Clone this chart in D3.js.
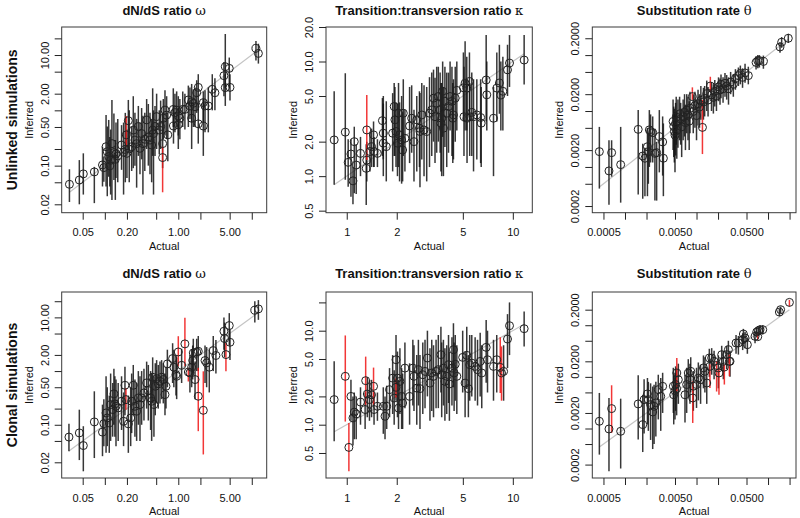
<!DOCTYPE html>
<html><head><meta charset="utf-8">
<script src="https://cdn.jsdelivr.net/npm/d3@7"></script>
<style>body{margin:0;background:#fff}svg{display:block}text{font-family:"Liberation Sans",Arial,Helvetica,sans-serif}</style>
</head><body><svg id="c" width="800" height="518"></svg>
<script>
// ---- data: [actual, inferred, lower CI, upper CI, flagged] ----
const omegaUnlinked=[
[0.033,0.046,0.022,0.086,0],[0.045,0.055,0.020,0.126,0],[0.051,0.071,0.030,0.167,0],[0.072,0.077,0.021,0.095,0],
[0.093,0.103,0.042,0.22,0],[0.097,0.092,0.051,0.146,0],[0.104,0.22,0.042,0.82,0],[0.108,0.179,0.028,0.51,0],
[0.113,0.146,0.063,0.67,0],[0.117,0.099,0.042,0.33,0],[0.12,0.125,0.03,0.45,0],[0.125,0.25,0.024,1.54,0],
[0.133,0.172,0.055,0.88,0],[0.139,0.13,0.024,0.29,0],[0.142,0.163,0.06,0.6,0],[0.15,0.15,0.05,0.7,0],
[0.169,0.236,0.084,0.54,0],[0.18,0.174,0.03,0.6,0],[0.19,0.197,0.05,0.9,0],[0.196,0.36,0.22,0.79,1],
[0.2,0.167,0.06,0.45,0],[0.209,0.65,0.19,1.54,0],[0.215,0.2,0.05,1.0,0],[0.232,0.22,0.08,0.5,0],
[0.244,0.44,0.09,1.8,0],[0.257,0.29,0.1,0.9,0],[0.271,0.25,0.04,0.7,0],[0.286,0.51,0.15,1.2,0],
[0.301,0.206,0.07,0.6,0],[0.317,0.38,0.13,1.1,0],[0.33,0.25,0.03,0.8,0],[0.35,0.3,0.08,0.9,0],
[0.371,0.67,0.2,1.6,0],[0.391,0.33,0.1,1.3,0],[0.412,0.29,0.07,0.9,0],[0.434,0.236,0.05,0.7,0],
[0.448,0.44,0.15,2.5,0],[0.46,0.38,0.03,1.0,0],[0.482,0.51,0.15,1.2,0],[0.507,0.77,0.2,2.0,0],
[0.551,0.44,0.16,1.0,0],[0.575,0.51,0.2,1.5,0],[0.612,0.25,0.09,0.9,0],[0.612,0.14,0.033,0.22,1],
[0.625,0.72,0.3,1.6,0],[0.659,1.01,0.35,2.3,0],[0.694,0.82,0.3,1.8,0],[0.72,0.36,0.12,0.9,0],
[0.855,1.04,0.5,2.5,0],[0.86,0.52,0.25,1.2,0],[0.9,0.91,0.4,2.0,0],[0.95,1.01,0.5,2.2,0],
[1.0,0.79,0.35,1.8,0],[1.0,0.55,0.2,1.1,0],[1.05,0.72,0.3,1.6,0],[1.15,1.04,0.5,2.2,0],
[1.23,1.04,0.45,2.0,0],[1.37,1.54,0.5,2.8,0],[1.44,1.2,0.7,2.6,0],[1.52,1.43,0.6,3.0,0],
[1.52,0.72,0.2,1.4,0],[1.6,1.34,0.5,2.4,0],[1.69,1.16,0.5,2.6,0],[1.78,2.08,0.9,3.5,0],
[1.87,2.6,1.0,4.5,0],[1.87,0.57,0.25,1.3,0],[2.19,1.38,0.6,2.2,0],[2.19,0.52,0.15,1.6,0],
[2.31,1.2,0.4,2.3,0],[2.56,1.2,0.4,2.6,0],[2.9,2.4,1.0,4.5,0],[3.15,2.08,1.0,3.8,0],
[4.18,4.23,1.8,7.5,0],[4.36,6.15,2.5,24,0],[4.36,2.57,1.2,4.5,0],[4.94,5.74,2.5,9,0],
[5.05,2.6,1.5,4.5,0],[11.4,13.2,8,18,0],[12.3,10.7,7,16,0]];

const kappaUnlinked=[
[0.84,2.07,0.84,5.5,0],[0.98,2.42,0.93,7.9,0],[1.02,1.32,0.81,2.1,0],[1.06,1.56,0.66,2.1,0],
[1.09,0.91,0.57,1.2,0],[1.11,2.0,0.71,2.7,0],[1.14,1.25,0.7,1.9,0],[1.21,1.58,1.0,2.2,0],
[1.31,1.17,0.56,1.9,0],[1.32,2.53,1.38,5.1,1],[1.32,1.38,0.9,2.0,0],[1.38,1.64,1.1,2.4,0],
[1.41,1.81,1.2,2.6,0],[1.45,2.29,1.2,3.0,0],[1.46,1.64,1.2,2.2,0],[1.53,1.58,1.2,2.1,0],
[1.64,3.05,1.5,4.8,0],[1.66,2.37,1.4,5.0,0],[1.66,1.94,1.0,4.3,0],[1.73,1.81,0.9,4.5,0],
[1.89,2.37,1.1,5.3,0],[1.93,4.05,1.5,6.5,0],[1.95,3.1,1.5,6.0,0],[1.98,2.45,1.2,4.4,0],
[2.02,1.94,1.0,4.3,0],[2.05,3.54,1.2,6.5,0],[2.08,2.29,0.9,4.4,0],[2.14,2.07,0.86,5.0,0],
[2.17,1.69,0.9,3.6,0],[2.19,3.54,1.5,7,0],[2.24,2.14,1.1,3.8,0],[2.39,2.74,1.3,6.0,0],
[2.46,3.2,1.6,6.2,0],[2.54,2.0,0.9,3.8,0],[2.64,3.1,1.1,5.0,0],[2.74,2.62,1.2,5.5,0],
[2.76,2.45,0.8,5.3,0],[2.83,3.42,1.4,6.5,0],[2.92,2.53,1.0,6.2,0],[3.03,2.45,0.9,6.0,0],
[3.15,3.54,1.2,7.3,0],[3.25,3.79,1.5,8,0],[3.33,4.79,2.0,8.5,0],[3.4,3.3,1.3,7.2,0],
[3.48,4.33,1.6,9,0],[3.56,4.95,2.0,9,0],[3.65,3.79,1.6,8,0],[3.69,2.9,1.1,6.5,0],
[3.73,3.2,1.0,6.5,0],[3.78,5.5,2.2,10,0],[3.82,2.62,1.0,6,0],[3.9,4.5,1.8,9,0],
[4.0,3.54,1.2,8,0],[4.1,4.05,1.6,8,0],[4.19,4.95,2.5,10,0],[4.3,4.5,1.5,9,0],
[4.35,3.2,1.3,6.5,0],[4.39,3.42,1.4,7,0],[4.5,4.79,2,9,0],[4.6,5.6,2.5,10,0],
[5.04,5.9,3.0,12,0],[5.08,3.3,1.5,9,0],[5.16,6.47,2.5,15,0],[5.28,5.86,2.5,11,0],
[5.3,3.2,1.3,7,0],[5.48,6.7,3.0,12,0],[5.5,3.3,1.5,6.5,0],[5.66,3.6,1.5,8,0],
[5.8,3.3,1.1,7,0],[6.07,3.42,1.4,7,0],[6.4,3.25,1.3,7,0],[6.45,2.9,1.2,6,0],
[6.91,6.9,3,17,0],[6.97,5.12,2.5,10,0],[7.65,3.2,1.0,6,0],[8.01,5.86,3,12,0],
[8.3,6.5,3.5,14,0],[8.47,5.1,2.5,10,0],[8.71,5.5,2.5,11,0],[9.29,8.46,5,14,0],
[9.55,9.7,6,17,0],[11.7,10.3,6.3,17,0]];

const thetaUnlinked=[
[0.000438,0.00188,0.00041,0.0052,0],[0.000597,0.00085,0.00021,0.003,0],[0.00065,0.0018,0.00067,0.003,0],
[0.00087,0.0011,0.00023,0.0052,0],[0.00153,0.0047,0.00032,0.0104,0],[0.00177,0.00157,0.00027,0.0026,0],
[0.0019,0.00143,0.0003,0.0022,0],[0.00206,0.0023,0.0003,0.005,0],[0.00212,0.00188,0.0005,0.004,0],
[0.00219,0.0046,0.001,0.0104,0],[0.00228,0.0043,0.0012,0.0087,0],[0.00244,0.0041,0.0012,0.008,0],
[0.00262,0.00175,0.00025,0.0048,0],[0.00277,0.0018,0.00025,0.0028,0],[0.00302,0.0035,0.0008,0.0104,0],
[0.00336,0.0028,0.0007,0.008,0],[0.00344,0.00143,0.0003,0.006,0],
[0.0047,0.0065,0.002,0.016,0],[0.0048,0.0053,0.0015,0.012,0],[0.0049,0.0043,0.0012,0.011,0],
[0.005,0.0037,0.0008,0.0095,0],[0.0051,0.006,0.0016,0.014,0],[0.0052,0.0078,0.0025,0.018,0],
[0.0053,0.0045,0.0014,0.01,0],[0.0055,0.0066,0.0022,0.016,0],[0.0058,0.0089,0.003,0.018,0],
[0.006,0.0072,0.0025,0.014,0],[0.0062,0.0052,0.0015,0.011,0],[0.0065,0.0079,0.003,0.016,0],
[0.0068,0.0095,0.0035,0.02,0],[0.007,0.0062,0.002,0.013,0],[0.0073,0.0104,0.004,0.02,0],
[0.0076,0.0085,0.003,0.018,0],[0.0079,0.0066,0.002,0.015,0],[0.0081,0.0112,0.004,0.022,0],
[0.00875,0.0181,0.0159,0.0265,1],[0.009,0.0098,0.004,0.02,0],[0.0095,0.0125,0.005,0.022,0],
[0.01,0.0083,0.003,0.016,0],[0.0105,0.0135,0.0055,0.024,0],[0.011,0.0118,0.005,0.02,0],
[0.0115,0.0155,0.007,0.028,0],[0.0121,0.0051,0.0017,0.0158,1],[0.0125,0.0145,0.007,0.026,0],
[0.013,0.0168,0.008,0.028,0],[0.0139,0.0205,0.01,0.035,0],[0.0145,0.0157,0.008,0.027,0],
[0.0156,0.028,0.0222,0.041,1],[0.0162,0.0195,0.01,0.033,0],[0.0172,0.0175,0.009,0.03,0],
[0.018,0.0225,0.012,0.036,0],[0.019,0.0185,0.01,0.03,0],[0.0203,0.027,0.015,0.04,0],
[0.0213,0.0238,0.013,0.038,0],[0.022,0.03,0.017,0.045,0],[0.0235,0.025,0.014,0.04,0],
[0.025,0.0313,0.018,0.048,0],[0.0264,0.028,0.016,0.044,0],[0.028,0.025,0.013,0.04,0],
[0.03,0.033,0.02,0.05,0],[0.0327,0.03,0.018,0.046,0],[0.035,0.038,0.024,0.056,0],
[0.0385,0.043,0.028,0.06,0],[0.041,0.047,0.03,0.065,0],[0.044,0.04,0.026,0.058,0],
[0.0477,0.048,0.032,0.07,0],[0.053,0.043,0.03,0.062,0],[0.068,0.074,0.055,0.095,0],
[0.072,0.079,0.058,0.1,0],[0.0757,0.08,0.06,0.1,0],[0.0861,0.077,0.057,0.098,0],
[0.147,0.14,0.11,0.17,0],[0.155,0.17,0.135,0.21,0],[0.192,0.2,0.165,0.24,0]];

const omegaClonal=[
[0.0325,0.059,0.032,0.105,0],[0.045,0.0705,0.022,0.191,0],[0.051,0.041,0.0136,0.094,0],[0.072,0.113,0.024,0.42,0],
[0.093,0.073,0.026,0.237,0],[0.097,0.105,0.04,0.3,0],[0.104,0.166,0.03,0.8,0],[0.108,0.134,0.04,0.5,0],
[0.115,0.108,0.03,0.35,0],[0.12,0.238,0.05,0.9,0],[0.128,0.192,0.06,0.6,0],[0.133,0.376,0.1,1.1,0],
[0.137,0.244,0.06,0.8,0],[0.142,0.221,0.04,0.7,0],[0.152,0.206,0.05,0.6,0],[0.169,0.274,0.08,0.8,0],
[0.18,0.116,0.04,0.4,0],[0.188,0.544,0.15,1.2,0],[0.194,0.294,0.19,0.485,1],[0.209,0.104,0.03,0.35,0],
[0.225,0.134,0.04,0.5,0],[0.232,0.274,0.07,0.9,0],[0.244,0.544,0.15,1.3,0],[0.257,0.221,0.06,0.7,0],
[0.271,0.179,0.05,0.6,0],[0.286,0.316,0.1,1.0,0],[0.301,0.238,0.05,0.8,0],[0.317,0.316,0.1,1.0,0],
[0.341,0.392,0.12,1.1,0],[0.371,0.603,0.2,1.5,0],[0.391,0.434,0.12,1.3,0],[0.42,0.316,0.08,1.0,0],
[0.434,0.274,0.05,0.9,0],[0.448,0.768,0.25,1.8,0],[0.466,0.238,0.06,0.8,0],[0.486,0.521,0.15,1.4,0],
[0.507,0.724,0.25,1.6,0],[0.534,0.577,0.2,1.3,0],[0.563,0.646,0.25,1.5,0],[0.593,0.768,0.3,1.6,0],
[0.625,0.695,0.25,1.4,0],[0.659,0.365,0.15,0.9,0],[0.68,0.521,0.2,1.2,0],[0.71,1.36,0.5,2.5,0],
[0.837,1.71,0.6,3.3,0],[0.87,1.18,0.5,2.5,0],[0.93,0.86,0.35,2.0,0],[0.95,0.8,0.3,1.8,0],
[1.0,2.27,1.23,4.46,1],[1.11,1.28,0.6,2.6,0],[1.23,3.21,1.23,9.8,1],[1.37,0.96,0.64,1.15,1],
[1.44,0.925,0.4,2.0,0],[1.52,1.18,0.5,2.5,0],[1.57,1.57,0.7,3.0,0],[1.6,2.18,0.9,4.0,0],
[1.69,0.695,0.3,1.5,0],[1.78,2.27,1.0,4.0,0],[1.87,2.34,1.0,4.5,0],[1.87,0.34,0.076,1.15,1],
[2.19,0.186,0.028,0.99,1],[2.31,1.57,0.6,3.0,0],[2.43,1.42,0.5,2.8,0],[2.64,1.18,0.4,2.5,0],
[2.99,2.41,1.0,4.5,0],[3.25,1.95,0.9,3.8,0],[4.18,5.52,2.5,10,0],[4.27,4.03,1.8,8,0],
[4.45,2.03,0.99,3.35,1],[4.94,7.05,3.0,12,0],[5.05,3.44,1.6,6,0],[11.0,13.6,8,20,0],[12.3,14.4,9,21,0]];

const kappaClonal=[
[0.84,1.85,0.665,4.72,0],[0.98,3.27,1.08,8.9,1],[1.03,0.574,0.319,1.04,1],[1.06,2.0,1.1,3.0,0],
[1.09,1.18,0.6,2.0,0],[1.11,1.36,0.7,2.2,0],[1.14,1.3,0.7,2.0,0],[1.21,1.74,1.0,2.5,0],
[1.29,1.45,0.9,2.2,0],[1.3,2.94,1.63,5.3,1],[1.33,2.12,1.2,3.2,0],[1.37,1.85,1.1,3.0,0],
[1.41,2.08,1.2,3.0,0],[1.45,2.56,1.63,4.05,1],[1.46,1.45,1.0,2.2,0],[1.53,1.57,1.1,2.2,0],
[1.66,1.57,0.8,2.5,0],[1.7,1.23,0.7,2.0,0],[1.74,1.57,0.9,2.6,0],[1.81,2.36,1.2,4.0,0],
[1.89,3.13,1.3,5.5,0],[1.93,1.92,1.0,3.8,0],[1.98,4.91,1.8,9,0],[1.98,2.5,1.95,3.1,1],
[2.02,3.13,1.2,6.0,0],[2.05,1.5,0.9,3.0,0],[2.09,2.89,1.3,6.5,0],[2.14,2.0,0.9,4.0,0],
[2.17,1.7,0.9,3.5,0],[2.24,4.0,1.5,7.5,0],[2.39,2.0,1.0,4.5,0],[2.5,4.0,1.6,8,0],
[2.54,3.27,1.4,7,0],[2.64,2.45,1.0,5.5,0],[2.7,3.85,1.6,8,0],[2.76,2.42,0.9,5.5,0],
[2.87,3.4,1.3,7.5,0],[2.96,3.69,1.5,8,0],[3.06,5.12,2.0,10,0],[3.17,2.77,1.1,6.5,0],
[3.25,3.55,1.4,8,0],[3.33,3.27,1.2,7,0],[3.45,3.69,1.5,8,0],[3.56,3.85,1.5,9,0],
[3.69,5.56,2.2,11,0],[3.73,3.4,1.2,7.5,0],[3.82,4.0,1.6,8,0],[3.9,2.89,1.1,6.5,0],
[4.0,3.27,1.3,7,0],[4.1,4.35,1.7,9,0],[4.15,2.71,1.1,6,0],[4.3,4.0,1.6,8.5,0],
[4.39,6.28,2.5,12,0],[4.43,3.55,1.4,7.5,0],[4.5,4.4,1.8,9,0],[4.6,3.27,1.3,7,0],
[4.99,5.2,2.2,10,0],[5.16,2.77,1.2,6,0],[5.28,5.47,2.4,11,0],[5.4,2.42,1.2,5.5,0],
[5.5,4.35,1.8,9,0],[5.66,4.52,2.0,9,0],[5.93,4.17,1.8,8.5,0],[6.13,3.85,1.6,8,0],
[6.36,4.71,2.0,9.5,0],[6.5,3.55,1.5,7,0],[6.91,6.65,2.8,13,0],[7.04,4.91,2.2,10,0],
[7.65,4.17,1.8,8,0],[8.0,4.91,2.2,9,0],[8.4,4.07,2.17,8.5,1],[8.55,3.55,1.8,6.8,1],
[8.8,3.69,1.8,7,0],[9.29,8.15,4,15,0],[9.55,11.3,5.5,20,0],[11.7,10.5,6.8,16,0]];

const thetaClonal=[
[0.000438,0.00138,0.000312,0.00488,0],[0.000597,0.00098,0.000149,0.0039,0],[0.00065,0.00243,0.00082,0.00687,1],
[0.00087,0.000883,0.000168,0.00378,0],[0.00153,0.00299,0.00061,0.0107,0],[0.00177,0.00119,0.00035,0.0045,0],
[0.00185,0.00362,0.0008,0.009,0],[0.00206,0.00467,0.0012,0.0095,0],[0.00212,0.00362,0.0009,0.008,0],
[0.00228,0.0029,0.0006,0.0075,0],[0.00244,0.00209,0.0004,0.0065,0],[0.00255,0.00269,0.0005,0.007,0],
[0.0027,0.00313,0.0007,0.008,0],[0.00292,0.00566,0.0015,0.011,0],[0.00316,0.0042,0.0009,0.0095,0],
[0.00336,0.00656,0.002,0.012,0],[0.00474,0.0066,0.002,0.015,0],[0.0048,0.0045,0.0012,0.011,0],
[0.005,0.0054,0.0015,0.012,0],[0.0051,0.0071,0.0022,0.016,0],[0.00527,0.0059,0.0018,0.014,0],
[0.0053,0.0119,0.00525,0.0232,1],[0.00557,0.0088,0.003,0.018,0],[0.0069,0.0045,0.0013,0.011,0],
[0.00728,0.0071,0.002,0.015,0],[0.00767,0.0119,0.004,0.022,0],[0.0081,0.0088,0.003,0.018,0],
[0.0083,0.0128,0.005,0.024,0],[0.00885,0.0039,0.00128,0.0082,1],[0.00903,0.0066,0.0022,0.013,0],
[0.01,0.0071,0.0025,0.015,0],[0.0106,0.0095,0.0035,0.019,0],[0.0114,0.0088,0.003,0.017,0],
[0.0125,0.0149,0.006,0.026,0],[0.0131,0.0128,0.005,0.024,0],[0.0139,0.0076,0.003,0.015,0],
[0.0151,0.0232,0.01,0.035,0],[0.0154,0.016,0.0061,0.0175,1],[0.0163,0.0232,0.011,0.036,0],
[0.0176,0.02,0.009,0.032,0],[0.0191,0.0167,0.0052,0.02,1],[0.0202,0.0149,0.006,0.026,0],
[0.0206,0.0119,0.0045,0.0143,1],[0.0225,0.0269,0.013,0.04,0],[0.0237,0.02,0.009,0.032,0],
[0.0245,0.0155,0.0071,0.0173,1],[0.0264,0.0269,0.014,0.04,0],[0.0279,0.0337,0.018,0.05,0],
[0.0288,0.02,0.0103,0.0269,1],[0.0294,0.02,0.01,0.032,0],[0.0357,0.0453,0.028,0.065,0],
[0.0385,0.0453,0.027,0.062,0],[0.0442,0.0525,0.033,0.07,0],[0.0452,0.0676,0.045,0.085,0],
[0.0477,0.0566,0.036,0.075,0],[0.0514,0.042,0.028,0.058,0],[0.0658,0.061,0.045,0.078,0],
[0.0695,0.074,0.058,0.092,0],[0.0718,0.06,0.053,0.071,1],[0.0733,0.0785,0.062,0.095,0],
[0.0773,0.082,0.065,0.1,0],[0.0843,0.082,0.066,0.1,0],[0.144,0.18,0.15,0.21,0],
[0.15,0.2,0.17,0.23,0],[0.199,0.277,0.23,0.31,1]];

// ---- axis ticks / labels ----
const omegaXTicks=[0.05,0.1,0.2,0.5,1,2,5,10];
const omegaXLabels=["0.05","","0.20","","1.00","","5.00",""];
const omegaYTicks=[0.02,0.05,0.1,0.2,0.5,1,2,5,10,20];
const omegaYLabels=["0.02","","0.10","","0.50","","2.00","","10.00",""];
const kappaXTicks=[1,2,5,10];
const kappaXLabels=["1","2","5","10"];
const kappaYTicks=[0.5,1,2,5,10,20];
const kappaYLabelsUnlinked=["0.5","1.0","2.0","5.0","10.0","20.0"];
const kappaYLabelsClonal=["0.5","1.0","2.0","5.0","10.0",""];
const thetaXTicks=[0.0005,0.001,0.002,0.005,0.01,0.02,0.05,0.1,0.2];
const thetaXLabels=["0.0005","","","0.0050","","","0.0500","",""];
const thetaYTicks=[0.0002,0.0005,0.001,0.002,0.005,0.01,0.02,0.05,0.1,0.2];
const thetaYLabels=["0.0002","","","0.0020","","","0.0200","","","0.2000"];

// axis limits
const omegaXDomain=[0.0259,15.96], kappaXDomain=[0.750,13.1], thetaXDomain=[0.000349,0.246];
const omegaUnlinkedYDomain=[0.0141,32.1], kappaUnlinkedYDomain=[0.48,20.0], thetaUnlinkedYDomain=[0.000152,0.318];
const omegaClonalYDomain=[0.0102,29.7], kappaClonalYDomain=[0.271,25.8], thetaClonalYDomain=[0.00011,0.44];

const titles=[["dN/dS ratio ","ω"],["Transition:transversion ratio ","κ"],["Substitution rate ","θ"]];
const rowLabels=["Unlinked simulations","Clonal simulations"];

// ---- layout ----
const colX=[[61.7,266.7],[326,532.3],[592.3,796]];
const rowY=[[27,212.7],[292,478]];
const titleY=[14.5,277.5];

const panels=[
 {r:0,c:0,data:omegaUnlinked,xd:omegaXDomain,yd:omegaUnlinkedYDomain,xt:omegaXTicks,xl:omegaXLabels,yt:omegaYTicks,yl:omegaYLabels},
 {r:0,c:1,data:kappaUnlinked,xd:kappaXDomain,yd:kappaUnlinkedYDomain,xt:kappaXTicks,xl:kappaXLabels,yt:kappaYTicks,yl:kappaYLabelsUnlinked},
 {r:0,c:2,data:thetaUnlinked,xd:thetaXDomain,yd:thetaUnlinkedYDomain,xt:thetaXTicks,xl:thetaXLabels,yt:thetaYTicks,yl:thetaYLabels},
 {r:1,c:0,data:omegaClonal,xd:omegaXDomain,yd:omegaClonalYDomain,xt:omegaXTicks,xl:omegaXLabels,yt:omegaYTicks,yl:omegaYLabels},
 {r:1,c:1,data:kappaClonal,xd:kappaXDomain,yd:kappaClonalYDomain,xt:kappaXTicks,xl:kappaXLabels,yt:kappaYTicks,yl:kappaYLabelsClonal},
 {r:1,c:2,data:thetaClonal,xd:thetaXDomain,yd:thetaClonalYDomain,xt:thetaXTicks,xl:thetaXLabels,yt:thetaYTicks,yl:thetaYLabels}
];

const svg=d3.select("#c");
svg.append("rect").attr("width",800).attr("height",518).attr("fill","#fff");

panels.forEach(p=>{
  const [x0,x1]=colX[p.c],[y0,y1]=rowY[p.r];
  const x=d3.scaleLog().domain(p.xd).range([x0,x1]);
  const y=d3.scaleLog().domain(p.yd).range([y1,y0]);
  const g=svg.append("g");
  const ext=d3.extent(p.data,d=>d[0]);
  g.append("line").attr("x1",x(ext[0])).attr("y1",y(ext[0])).attr("x2",x(ext[1])).attr("y2",y(ext[1]))
    .attr("stroke","#c4c4c4").attr("stroke-width",1.2);
  const sorted=p.data.slice().sort((a,b)=>a[4]-b[4]);
  g.selectAll(".bar").data(sorted).join("line")
    .attr("x1",d=>x(d[0])).attr("x2",d=>x(d[0]))
    .attr("y1",d=>y(d[2])).attr("y2",d=>y(d[3]))
    .attr("stroke",d=>d[4]?"rgba(240,20,20,0.85)":"rgba(20,20,20,0.85)")
    .attr("stroke-width",1.5);
  g.selectAll(".pt").data(p.data).join("circle")
    .attr("cx",d=>x(d[0])).attr("cy",d=>y(d[1])).attr("r",4)
    .attr("fill","none").attr("stroke","#222").attr("stroke-width",1);
  g.append("rect").attr("x",x0).attr("y",y0).attr("width",x1-x0).attr("height",y1-y0)
    .attr("fill","none").attr("stroke","#3a3a3a").attr("stroke-width",1);
  // x axis
  const ax=g.append("g").attr("transform",`translate(0,${y1})`)
    .call(d3.axisBottom(x).tickValues(p.xt).tickFormat((d,i)=>p.xl[i]).tickSizeInner(7).tickSizeOuter(0).tickPadding(9));
  ax.select(".domain").remove();
  ax.selectAll("line").attr("stroke","#222");
  ax.selectAll("text").attr("font-size",11).attr("fill","#111").attr("font-family","Liberation Sans, Arial, sans-serif");
  // y axis
  const ay=g.append("g").attr("transform",`translate(${x0},0)`)
    .call(d3.axisLeft(y).tickValues(p.yt).tickFormat((d,i)=>p.yl[i]).tickSizeInner(7).tickSizeOuter(0));
  ay.select(".domain").remove();
  ay.selectAll("line").attr("stroke","#222");
  ay.selectAll("text").attr("font-size",11).attr("fill","#111").attr("font-family","Liberation Sans, Arial, sans-serif")
    .attr("transform","rotate(-90)").attr("x",0).attr("y",-13).attr("dy",0).attr("text-anchor","middle");
  // axis titles
  g.append("text").attr("x",(x0+x1)/2).attr("y",y1+37).attr("text-anchor","middle")
    .attr("font-size",11).attr("fill","#111").text("Actual");
  g.append("text").attr("transform",`translate(${x0-29},${(y0+y1)/2}) rotate(-90)`).attr("text-anchor","middle")
    .attr("font-size",11).attr("fill","#111").text("Inferred");
  // title
  const t=g.append("text").attr("x",(x0+x1)/2).attr("y",titleY[p.r]).attr("text-anchor","middle")
    .attr("font-size",13).attr("font-weight","bold").attr("fill","#111");
  t.append("tspan").text(titles[p.c][0]);
  t.append("tspan").attr("font-weight","normal").attr("font-family","DejaVu Serif, serif").attr("font-size",13).text(titles[p.c][1]);
});

rowLabels.forEach((lab,i)=>{
  svg.append("text").attr("transform",`translate(17,${(rowY[i][0]+rowY[i][1])/2}) rotate(-90)`)
    .attr("text-anchor","middle").attr("font-size",14).attr("font-weight","bold").attr("fill","#111").text(lab);
});
</script></body></html>
